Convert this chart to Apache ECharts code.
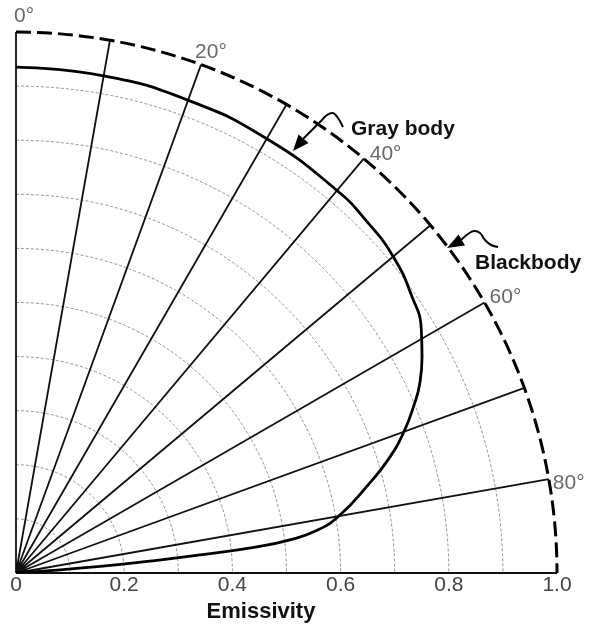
<!DOCTYPE html>
<html>
<head>
<meta charset="utf-8">
<script src="https://cdn.jsdelivr.net/npm/echarts@6/dist/echarts.min.js"></script>
<style>html,body{margin:0;padding:0;background:#fff}#c{width:589px;height:628px}</style>
</head>
<body>
<div id="c"></div>
<script>
// Gray body emissivity (radius) vs polar angle from the surface normal (degrees)
const grayAngle = [0, 10, 20, 30, 40, 45, 50, 55, 59, 62, 65, 67, 70, 73, 76, 80, 82, 83.1, 83.8, 84.4, 84.9, 85.5, 85.9, 90];
const grayEmiss = [0.935, 0.933, 0.930, 0.927, 0.923, 0.918, 0.910, 0.893, 0.874, 0.850, 0.823, 0.800, 0.763, 0.720, 0.670, 0.606, 0.560, 0.510, 0.448, 0.342, 0.249, 0.156, 0.063, 0];
// Angle tick labels (degrees) and emissivity tick labels
const angleTicks = [0, 20, 40, 60, 80];
const emissTicks = [0, 0.2, 0.4, 0.6, 0.8, 1.0];
const emissMin = 0, emissMax = 1, emissStep = 0.1;
const angleMin = 0, angleMax = 90, angleStep = 10;

// label nudges (styling only)
const angleLabelOffset = {0: [-7, -16], 20: [-11, -12], 40: [1, -4], 60: [0, -5], 80: [-1, 4]};

const FONT = '"Liberation Sans", Arial, Helvetica, sans-serif';
const chart = echarts.init(document.getElementById('c'), null, {renderer: 'canvas'});

const circleColors = [];
for (let v = emissMin; v <= emissMax + 1e-9; v += emissStep) {
  circleColors.push(v > emissMax - 1e-9 ? 'rgba(0,0,0,0)' : '#777');
}

chart.setOption({
  animation: false,
  backgroundColor: '#fff',
  polar: {center: [16, 573], radius: 541},
  angleAxis: {
    type: 'value', min: angleMin, max: angleMax, interval: angleStep,
    startAngle: 90, endAngle: 0, clockwise: true,
    axisLine: {show: true, lineStyle: {color: '#000', width: 3, type: [15, 6]}},
    axisTick: {show: false},
    axisLabel: {show: false},
    splitLine: {show: true, lineStyle: {color: '#111', width: 1.8}}
  },
  radiusAxis: {
    type: 'value', min: emissMin, max: emissMax, interval: emissStep,
    axisLine: {show: false}, axisTick: {show: false}, axisLabel: {show: false},
    splitLine: {show: true, lineStyle: {color: circleColors, width: 0.8, type: [3, 2]}}
  },
  grid: {left: 16, top: 33, width: 541, height: 540},
  xAxis: {
    type: 'value', min: emissMin, max: emissMax, interval: 0.2,
    axisLine: {show: false}, axisTick: {show: false}, splitLine: {show: false},
    axisLabel: {
      margin: 7, fontSize: 21, color: '#444', fontFamily: FONT,
      showMinLabel: true, showMaxLabel: true,
      formatter: v => {
        const t = emissTicks.find(x => Math.abs(x - v) < 1e-6);
        if (t === undefined) return '';
        return t === 0 ? '0' : t.toFixed(1);
      }
    },
    name: 'Emissivity', nameLocation: 'middle', nameGap: 22,
    nameTextStyle: {fontWeight: 'bold', fontSize: 22, color: '#111', fontFamily: FONT, padding: [0, 51, 0, 0]}
  },
  yAxis: {type: 'value', min: 0, max: 1, show: false},
  series: [{
    name: 'Gray body', type: 'line', coordinateSystem: 'polar',
    data: grayEmiss.map((r, i) => [r, grayAngle[i]]),
    smooth: 0.5, showSymbol: false, z: 5,
    lineStyle: {color: '#000', width: 2.8}
  }, {
    name: 'angle labels', type: 'scatter', coordinateSystem: 'polar', silent: true,
    symbolSize: 0, z: 6,
    data: angleTicks.map(a => ({value: [emissMax, a], label: {offset: angleLabelOffset[a] || [0, 0]}})),
    label: {show: true, position: 'right', distance: 5, fontSize: 21, color: '#444', fontFamily: FONT,
            formatter: p => p.value[1] + '°'}
  }],
  graphic: [
    {type: 'polyline', shape: {points: [[343,127],[338,118],[333,113],[327,115],[320,122],[303,139]], smooth: 0.4},
     style: {stroke: '#000', lineWidth: 2, fill: null}, z: 10},
    {type: 'polygon', shape: {points: [[293,151],[298.5,134.5],[308.5,143]]}, style: {fill: '#000'}, z: 10},
    {type: 'text', x: 351, y: 119, style: {text: 'Gray body', font: 'bold 21px ' + FONT, fill: '#111'}, z: 10},
    {type: 'polyline', shape: {points: [[461,240],[468,234],[474,231],[480,233],[485,240],[491,245],[498,247]], smooth: 0.4},
     style: {stroke: '#000', lineWidth: 2, fill: null}, z: 10},
    {type: 'polygon', shape: {points: [[447,248],[458.5,234.5],[465,245.5]]}, style: {fill: '#000'}, z: 10},
    {type: 'text', x: 475, y: 253, style: {text: 'Blackbody', font: 'bold 21px ' + FONT, fill: '#111'}, z: 10}
  ]
});
</script>
</body>
</html>
